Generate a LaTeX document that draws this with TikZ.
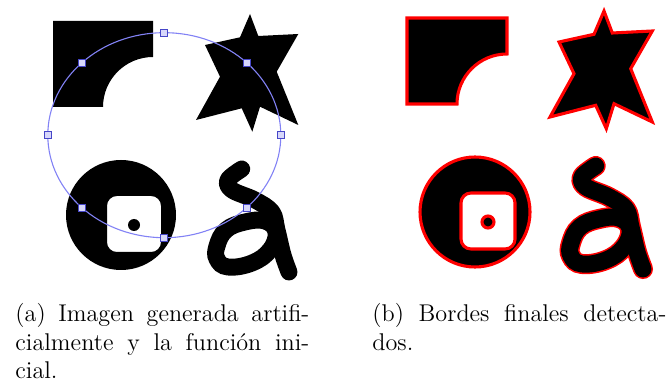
\documentclass[tikz,border=0pt]{standalone}
\definecolor{azulcurva}{RGB}{130,130,245}
\definecolor{azulmarca}{RGB}{70,70,200}
\definecolor{azulfondo}{RGB}{215,215,250}
% figuras de la imagen sintetica
\newcommand{\figuras}[1]{%
  \fill[#1] (53,21) -- (153,21) -- (153,57) .. controls (125.4,57) and (103,79.4) .. (103,107) -- (53,107) -- cycle;
  \fill[#1] (250,14) -- (258.3,36) -- (298.3,34) -- (276.7,71.7) -- (298.3,125) -- (260,106.7) -- (252.3,131.7)
    -- (241.7,108.3) -- (196,120) -- (220,76.7) -- (205,45) -- (240,37.3) -- cycle;
  \fill[#1, even odd rule] (121,215) circle[radius=55] [rounded corners=4.5pt] (107,196) rectangle (161,252);
  \fill[#1] (134,225) circle[radius=6];
}
\newcommand{\trazo}[1]{%
  \draw[#1, line cap=round, line join=round] plot[smooth, tension=0.6] coordinates
    {(241.7,169) (228,180) (232,190) (255,200) (272,212) (277,230) (283,255) (289,272)};
  \draw[#1] plot[smooth cycle, tension=0.7] coordinates
    {(217,246) (226,230) (245,222) (265,221) (276,232) (270,250) (252,263) (228,267) (217,259)};
}
\begin{document}
\begin{tikzpicture}[x=0.4545pt, y=-0.4545pt,
    curva/.style={draw=azulcurva, line width=0.5pt},
    marcador/.style={rectangle, draw=azulmarca, fill=azulfondo, minimum size=3.2pt, inner sep=0pt, line width=0.45pt},
    borde/.style={draw=red, line width=1.4pt},
    leyenda/.style={text width=133.6pt, align=justify, inner sep=0pt, anchor=north west,
      font=\fontsize{11pt}{13pt}\selectfont}]
    \useasboundingbox (0,0) rectangle (669,383);
    % (a) imagen generada y funcion inicial
    \figuras{black}
    \trazo{black, line width=7.7pt}
    \coordinate (centro) at (164.3,135.2);
    \draw[curva] (centro) ellipse[x radius=116.5, y radius=102.5];
    \foreach \a in {0,45,...,315}
      \node[marcador] (m\a) at ({164.3+116.5*cos(\a)},{135.2+102.5*sin(\a)}) {};
    % (b) bordes detectados
    \begin{scope}[shift={(354,-3)}]
      \figuras{black, borde}
      \trazo{red, line width=9.1pt}
      \trazo{black, line width=7.7pt}
    \end{scope}
    % leyendas
    \node[leyenda] (leyA) at (15,303) {(a) Imagen generada artifi-\linebreak cialmente y la función ini-\linebreak cial.};
    \node[leyenda] (leyB) at (372,303) {(b) Bordes finales detecta-\linebreak dos.};
\end{tikzpicture}
\end{document}
